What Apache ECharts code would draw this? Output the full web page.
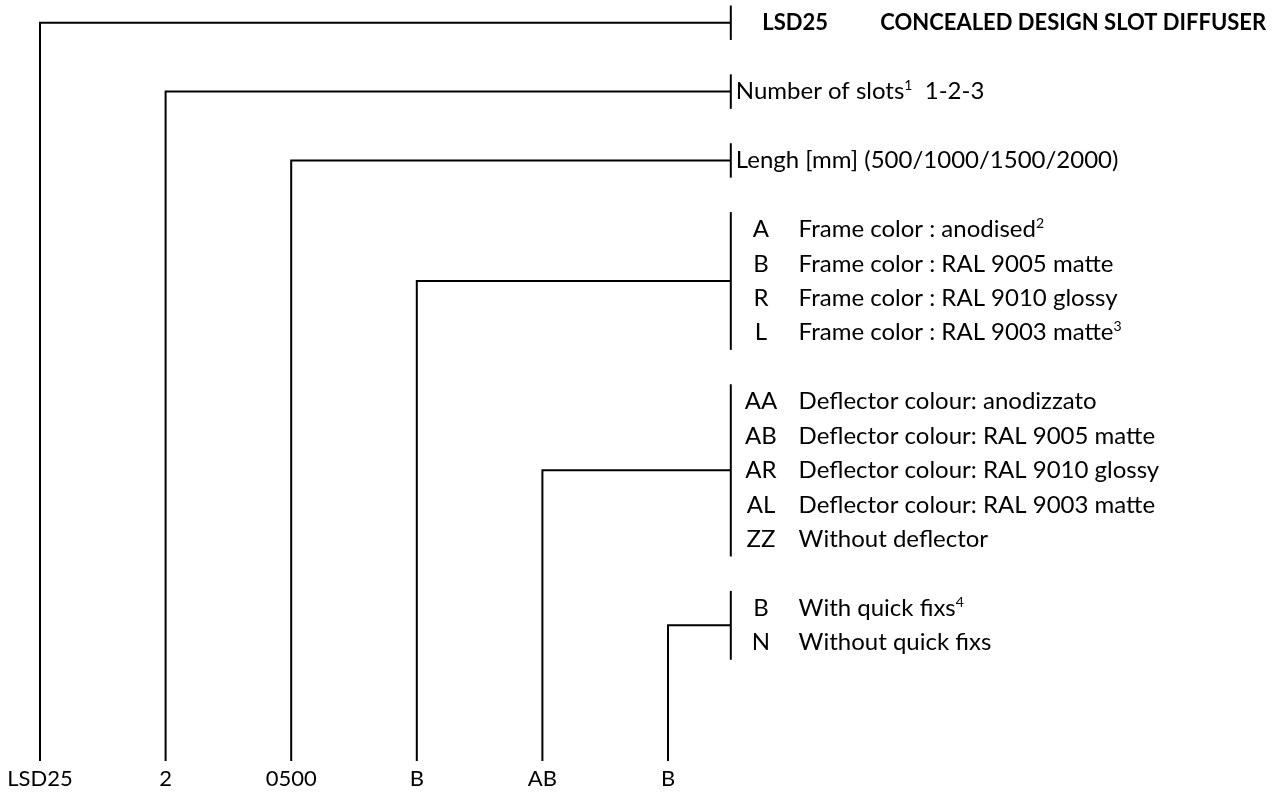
<!DOCTYPE html>
<html>
<head>
<meta charset="utf-8">
<script src="https://cdn.jsdelivr.net/npm/echarts@6/dist/echarts.min.js"></script>
<style>
html,body{margin:0;padding:0;background:#ffffff;}
#chart{width:1283px;height:792px;}
</style>
</head>
<body>
<div id="chart"></div>
<script>
// ---- data ----
const codes = ['LSD25', '2', '0500', 'B', 'AB', 'B'];
const titleParts = ['LSD25', 'CONCEALED DESIGN SLOT DIFFUSER'];
const slotsTexts = ['Number of slots{s|1}  1-2-3'];
const lengthTexts = ['Lengh [mm] (500/1000/1500/2000)'];
const frameCodes = ['A', 'B', 'R', 'L'];
const frameTexts = [
  'Frame color : anodised{s|2}',
  'Frame color : RAL 9005 matte',
  'Frame color : RAL 9010 glossy',
  'Frame color : RAL 9003 matte{s|3}'
];
const deflectorCodes = ['AA', 'AB', 'AR', 'AL', 'ZZ'];
const deflectorTexts = [
  'Deflector colour: anodizzato',
  'Deflector colour: RAL 9005 matte',
  'Deflector colour: RAL 9010 glossy',
  'Deflector colour: RAL 9003 matte',
  'Without deflector'
];
const fixCodes = ['B', 'N'];
const fixTexts = ['With quick fixs{s|4}', 'Without quick fixs'];

// ---- build groups (one per code column) ----
const groups = [
  { type: 'title', codes: [''], texts: [titleParts[1]] },
  { type: 'single', codes: [''], texts: slotsTexts },
  { type: 'single', codes: [''], texts: lengthTexts },
  { type: 'list', codes: frameCodes, texts: frameTexts },
  { type: 'list', codes: deflectorCodes, texts: deflectorTexts },
  { type: 'list', codes: fixCodes, texts: fixTexts }
];
let row = 0;
const seriesData = groups.map(function (g, i) {
  const first = row;
  const last = row + g.texts.length - 1;
  row += g.texts.length + 1;
  return [i, first, last];
});

const Y_MIN = -0.66, Y_MAX = 21.44;
const BRACKET_X = 5.5, CODE_X = 5.74, DESC_X = 6.04, TITLE1_X = 5.75, TITLE2_X = 6.69;
const FONT = 'Lato, "Liberation Sans", sans-serif';
const FS = 24;
const rich = {
  s: { fontSize: 14, verticalAlign: 'top', fontFamily: FONT, fill: '#000', lineHeight: 26 },
  n: { fontSize: FS, fontFamily: FONT, lineHeight: 26 }
};
function richText(t) {
  return '{n|' + t.replace(/\{s\|(\d)\}/g, '}{s|$1}{n|') + '}';
}

function renderItem(params, api) {
  const idx = api.value(0), first = api.value(1), last = api.value(2);
  const g = groups[idx];
  const mid = (first + last) / 2;
  const pBottom = api.coord([idx, Y_MAX]);
  const pMid = api.coord([idx, mid]);
  const pBr = api.coord([BRACKET_X, mid]);
  const brTop = api.coord([BRACKET_X, first - 0.5]);
  const brBot = api.coord([BRACKET_X, last + 0.5]);
  const lineStyle = { stroke: '#000', lineWidth: 2, fill: null };
  const children = [
    { type: 'polyline', shape: { points: [pBottom, pMid, pBr] }, style: lineStyle },
    { type: 'line', shape: { x1: brTop[0], y1: brTop[1], x2: brBot[0], y2: brBot[1] }, style: lineStyle }
  ];
  g.texts.forEach(function (t, k) {
    const y = api.coord([0, first + k])[1];
    if (g.type === 'title') {
      children.push({ type: 'text', x: api.coord([TITLE1_X, 0])[0], y: y,
        style: { text: titleParts[0], fontFamily: FONT, fontWeight: 'bold', fontSize: 22, fill: '#000', align: 'left', verticalAlign: 'middle' } });
      children.push({ type: 'text', x: api.coord([TITLE2_X, 0])[0], y: y,
        style: { text: t, fontFamily: FONT, fontWeight: 'bold', fontSize: 22, fill: '#000', align: 'left', verticalAlign: 'middle' } });
    } else if (g.type === 'single') {
      children.push({ type: 'text', x: brTop[0] + 5, y: y,
        style: { text: richText(t), rich: rich, fontFamily: FONT, fontSize: FS, fill: '#000', align: 'left', verticalAlign: 'middle' } });
    } else {
      children.push({ type: 'text', x: api.coord([CODE_X, 0])[0], y: y,
        style: { text: g.codes[k], fontFamily: FONT, fontSize: FS, fill: '#000', align: 'center', verticalAlign: 'middle' } });
      children.push({ type: 'text', x: api.coord([DESC_X, 0])[0], y: y,
        style: { text: richText(t), rich: rich, fontFamily: FONT, fontSize: FS, fill: '#000', align: 'left', verticalAlign: 'middle' } });
    }
  });
  return { type: 'group', children: children };
}

const chart = echarts.init(document.getElementById('chart'), null, { renderer: 'canvas' });
chart.setOption({
  backgroundColor: '#ffffff',
  animation: false,
  grid: { left: 40, top: 0, width: 1256, height: 761, containLabel: false, outerBoundsMode: 'none' },
  xAxis: {
    type: 'value', min: 0, max: 10, interval: 1,
    axisLine: { show: false }, axisTick: { show: false }, splitLine: { show: false },
    axisLabel: {
      margin: 7, fontSize: 22, color: '#000', fontFamily: FONT,
      formatter: function (v) { return codes[v] !== undefined ? codes[v] : ''; }
    }
  },
  yAxis: {
    type: 'value', inverse: true, min: Y_MIN, max: Y_MAX, show: false
  },
  series: [{
    type: 'custom',
    renderItem: renderItem,
    data: seriesData,
    clip: false,
    silent: true
  }]
});
</script>
</body>
</html>
